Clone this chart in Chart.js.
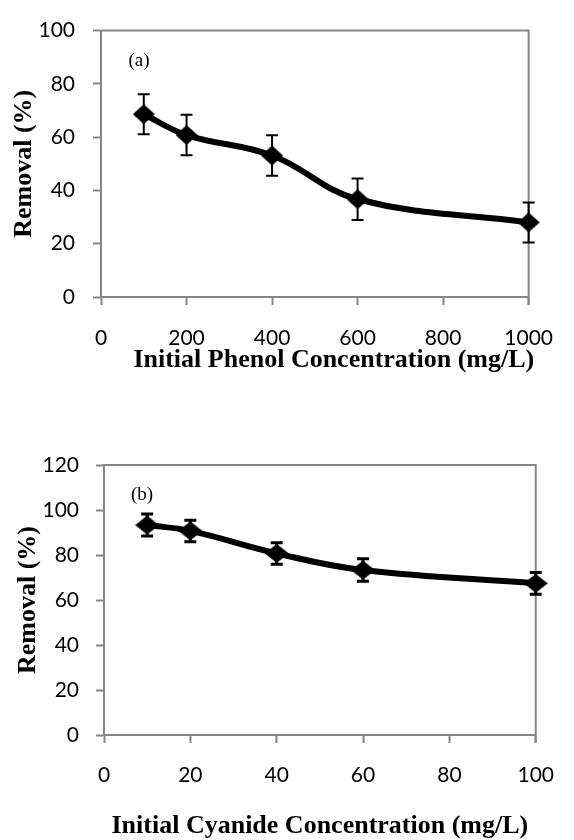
<!DOCTYPE html>
<html>
<head>
<meta charset="utf-8">
<title>Removal vs initial concentration</title>
<script src="https://cdn.jsdelivr.net/npm/chart.js@4.4.1/dist/chart.umd.min.js"></script>
<style>
    body { margin: 0; background: #fff; }
    canvas { display: block; }
</style>
</head>
<body>
<canvas id="phenolChart" width="574" height="420"></canvas>
<canvas id="cyanideChart" width="574" height="420"></canvas>
<script>
// (a) fenol
const phenolConc = [100, 200, 400, 600, 1000];
const phenolRemoval = [68.6, 60.8, 53.1, 36.7, 28.0];
const phenolError = [7.5, 7.6, 7.6, 7.8, 7.5];
const phenolXTicks = [0, 200, 400, 600, 800, 1000];
const phenolYTicks = [0, 20, 40, 60, 80, 100];

// (b) cianuro
const cyanideConc = [10, 20, 40, 60, 100];
const cyanideRemoval = [93.3, 90.7, 80.7, 73.3, 67.4];
const cyanideError = [4.9, 4.8, 4.8, 5.0, 4.8];
const cyanideXTicks = [0, 20, 40, 60, 80, 100];
const cyanideYTicks = [0, 20, 40, 60, 80, 100, 120];

const AXIS_GRAY = "#868686";
const SERIF = "'Liberation Serif', 'Times New Roman', serif";

// marcador rombo (un poco mas ancho que alto, como en Excel)
function diamond(w, h) {
    const c = document.createElement("canvas");
    c.width = w;
    c.height = h;
    const g = c.getContext("2d");
    g.fillStyle = "#000";
    g.beginPath();
    g.moveTo(w / 2, 0);
    g.lineTo(w, h / 2);
    g.lineTo(w / 2, h);
    g.lineTo(0, h / 2);
    g.closePath();
    g.fill();
    return c;
}

// barras de error
const errorBars = {
    id: "errorBars",
    afterDatasetsDraw(chart, args, opts) {
        const { ctx, scales: { x, y } } = chart;
        const ds = chart.data.datasets[0];
        ctx.save();
        ctx.strokeStyle = "#000";
        ctx.lineWidth = opts.width;
        ds.data.forEach((p, i) => {
            const px = x.getPixelForValue(p.x);
            const top = y.getPixelForValue(p.y + ds.errors[i]);
            const bot = y.getPixelForValue(p.y - ds.errors[i]);
            ctx.beginPath();
            ctx.moveTo(px, top);
            ctx.lineTo(px, bot);
            ctx.moveTo(px - opts.cap, top);
            ctx.lineTo(px + opts.cap, top);
            ctx.moveTo(px - opts.cap, bot);
            ctx.lineTo(px + opts.cap, bot);
            ctx.stroke();
        });
        ctx.restore();
    }
};

// marco gris, etiqueta del panel y titulo del eje x
const plotFrame = {
    id: "plotFrame",
    beforeDatasetsDraw(chart, args, opts) {
        const { ctx, chartArea: a } = chart;
        ctx.save();
        ctx.strokeStyle = AXIS_GRAY;
        ctx.lineWidth = 2;
        ctx.beginPath();
        ctx.moveTo(a.left, a.top);
        ctx.lineTo(a.right, a.top);
        ctx.lineTo(a.right, a.bottom + 8);
        ctx.stroke();

        ctx.fillStyle = "#000";
        ctx.textAlign = "center";
        ctx.textBaseline = "middle";
        ctx.font = `19px ${SERIF}`;
        ctx.fillText(opts.label, a.left + 38, a.top + 30);

        ctx.font = `bold 26px ${SERIF}`;
        ctx.fillText(opts.xTitle, (a.left + a.right) / 2 + opts.titleDx, a.bottom + opts.titleDy);
        ctx.restore();
    }
};

function makeChart(id, c) {
    const ctx = document.getElementById(id).getContext("2d");
    return new Chart(ctx, {
        type: "line",
        data: {
            datasets: [{
                data: c.xs.map((v, i) => ({ x: v, y: c.ys[i] })),
                errors: c.errs,
                borderColor: "#000",
                backgroundColor: "#000",
                borderWidth: 6,
                tension: 0.4,
                pointStyle: c.marker,
                pointRadius: 11,
                clip: false
            }]
        },
        options: {
            responsive: false,
            devicePixelRatio: 1,
            animation: false,
            layout: { padding: { left: 0, top: c.top, right: 27.5, bottom: 0 } },
            plugins: {
                legend: { display: false },
                tooltip: { enabled: false },
                errorBars: { width: c.errWidth, cap: 6 },
                plotFrame: { label: c.label, xTitle: c.xTitle, titleDx: c.titleDx, titleDy: c.titleDy }
            },
            scales: {
                x: {
                    type: "linear",
                    min: c.xTicks[0],
                    max: c.xTicks[c.xTicks.length - 1],
                    afterBuildTicks: (s) => { s.ticks = c.xTicks.map(v => ({ value: v })); },
                    ticks: {
                        color: "#000", font: { family: "Lato", size: 21 }, padding: c.xPad, maxRotation: 0,
                        callback: (v) => String(v)
                    },
                    grid: { drawOnChartArea: false, drawTicks: true, tickLength: 8, tickWidth: 2, color: AXIS_GRAY },
                    border: { color: AXIS_GRAY, width: 2 },
                    afterFit: (s) => { s.height = c.xHeight; }
                },
                y: {
                    min: c.yTicks[0],
                    max: c.yTicks[c.yTicks.length - 1],
                    afterBuildTicks: (s) => { s.ticks = c.yTicks.map(v => ({ value: v })); },
                    ticks: {
                        color: "#000", font: { family: "Lato", size: 21 }, padding: c.yPad,
                        callback: (v) => String(v)
                    },
                    grid: { drawOnChartArea: false, drawTicks: true, tickLength: 8, tickWidth: 2, color: AXIS_GRAY },
                    border: { color: AXIS_GRAY, width: 2 },
                    title: {
                        display: true, text: "Removal (%)", color: "#000",
                        font: { family: SERIF, size: 26, weight: "bold" },
                        padding: { top: c.yTitlePad, bottom: 0 }
                    },
                    afterFit: (s) => { s.width = c.yWidth; }
                }
            }
        },
        plugins: [errorBars, plotFrame]
    });
}

makeChart("phenolChart", {
    xs: phenolConc, ys: phenolRemoval, errs: phenolError,
    xTicks: phenolXTicks, yTicks: phenolYTicks,
    label: "(a)", marker: diamond(22, 20), errWidth: 2,
    top: 25, yWidth: 101, xHeight: 123,
    xPad: 21, yPad: 18, yTitlePad: 9,
    titleDx: 19, titleDy: 63,
    xTitle: "Initial Phenol Concentration (mg/L)"
});

makeChart("cyanideChart", {
    xs: cyanideConc, ys: cyanideRemoval, errs: cyanideError,
    xTicks: cyanideXTicks, yTicks: cyanideYTicks,
    label: "(b)", marker: diamond(24, 19), errWidth: 3,
    top: 45, yWidth: 104, xHeight: 105,
    xPad: 20, yPad: 17, yTitlePad: 13,
    titleDx: 0, titleDy: 91,
    xTitle: "Initial Cyanide Concentration (mg/L)"
});
</script>
</body>
</html>
